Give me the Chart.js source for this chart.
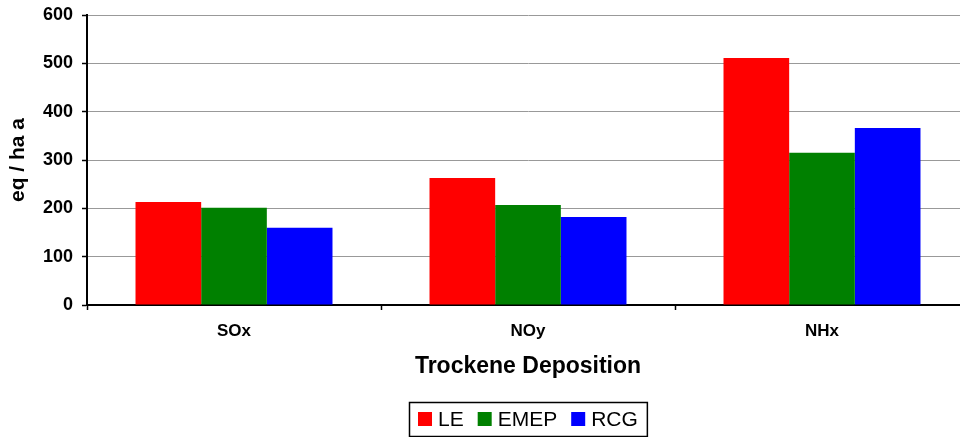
<!DOCTYPE html>
<html>
<head>
<meta charset="utf-8">
<title>Trockene Deposition</title>
<script src="https://cdn.jsdelivr.net/npm/chart.js@4/dist/chart.umd.min.js"></script>
<style>
  html, body { margin: 0; padding: 0; background: #fff; overflow: hidden; }
  #frame { width: 960px; height: 437px; overflow: hidden; position: relative; }
  #plot { display: block; }
</style>
</head>
<body>
<div id="frame"><canvas id="plot" width="970" height="437"></canvas></div>
<script>
// Dry deposition per component, eq / ha a
const categories = ['SOx', 'NOy', 'NHx'];
const seriesNames = ['LE', 'EMEP', 'RCG'];
const leValues = [213, 263, 511];
const emepValues = [201, 207, 315];
const rcgValues = [160, 182, 366];
const yTicks = [0, 100, 200, 300, 400, 500, 600];

const FONT = "'Liberation Sans', Arial, Helvetica, sans-serif";
const colors = ['#ff0000', '#008000', '#0000ff'];

// Framed legend drawn under the axis title, centred on the plot area
const boxedLegend = {
  id: 'boxedLegend',
  afterDraw(chart) {
    const ctx = chart.ctx;
    const area = chart.chartArea;
    const fontSize = 21;
    const sq = 14, gapText = 6, gapItem = 14, pad = 9;
    ctx.save();
    ctx.font = fontSize + 'px ' + FONT;
    const items = chart.data.datasets.map(ds => ({
      text: ds.label, color: ds.backgroundColor, w: ctx.measureText(ds.label).width
    }));
    let total = pad * 2;
    items.forEach((it, i) => { total += sq + gapText + it.w + (i < items.length - 1 ? gapItem : 0); });
    const cx = (area.left + area.right) / 2;
    const left = Math.round(cx - total / 2);
    const top = 402, height = 34;
    ctx.strokeStyle = '#000';
    ctx.lineWidth = 1.5;
    ctx.strokeRect(left + 0.5, top + 0.5, total, height);
    let x = left + pad;
    const midY = top + height / 2;
    ctx.textBaseline = 'middle';
    ctx.textAlign = 'left';
    items.forEach(it => {
      ctx.fillStyle = it.color;
      ctx.fillRect(x, midY - 7, sq, sq);
      x += sq + gapText;
      ctx.fillStyle = '#000';
      ctx.fillText(it.text, x, midY + 1);
      x += it.w + gapItem;
    });
    ctx.restore();
  }
};

new Chart(document.getElementById('plot'), {
  type: 'bar',
  data: {
    labels: categories,
    datasets: [
      { label: seriesNames[0], data: leValues, backgroundColor: colors[0] },
      { label: seriesNames[1], data: emepValues, backgroundColor: colors[1] },
      { label: seriesNames[2], data: rcgValues, backgroundColor: colors[2] }
    ]
  },
  options: {
    responsive: false,
    devicePixelRatio: 1,
    animation: false,
    layout: { padding: { left: 0, right: 1, top: 15, bottom: 42 } },
    datasets: { bar: { barPercentage: 1, categoryPercentage: 0.67, borderWidth: 0 } },
    plugins: {
      legend: { display: false },
      tooltip: { enabled: false }
    },
    scales: {
      x: {
        afterFit(scale) { scale.height = 90; },
        border: { color: '#000', width: 2 },
        grid: {
          drawOnChartArea: false,
          drawTicks: true,
          tickLength: 5,
          tickColor: '#000',
          tickWidth: 1.5
        },
        ticks: {
          color: '#000',
          padding: 11,
          font: { family: FONT, size: 17, weight: 'bold' }
        },
        title: {
          display: true,
          text: 'Trockene Deposition',
          color: '#000',
          font: { family: FONT, size: 23, weight: 'bold' },
          padding: { top: 0, bottom: 15 }
        }
      },
      y: {
        min: 0,
        max: 600,
        afterFit(scale) {
          scale.width = 87;
          scale.paddingTop = 0;
          scale.paddingBottom = 0;
        },
        afterBuildTicks(scale) { scale.ticks = yTicks.map(v => ({ value: v })); },
        border: { color: '#000', width: 2 },
        grid: {
          color: '#999999',
          lineWidth: 1,
          borderDash: [1, 1],
          drawTicks: true,
          tickLength: 5,
          tickColor: '#000',
          tickWidth: 1.5,
          tickBorderDash: []
        },
        ticks: {
          color: '#000',
          padding: 9,
          font: { family: FONT, size: 18, weight: 'bold' }
        },
        title: {
          display: true,
          text: 'eq / ha a',
          color: '#000',
          font: { family: FONT, size: 21, weight: 'bold' },
          padding: { top: 6, bottom: 0 }
        }
      }
    }
  },
  plugins: [boxedLegend]
});
</script>
</body>
</html>
